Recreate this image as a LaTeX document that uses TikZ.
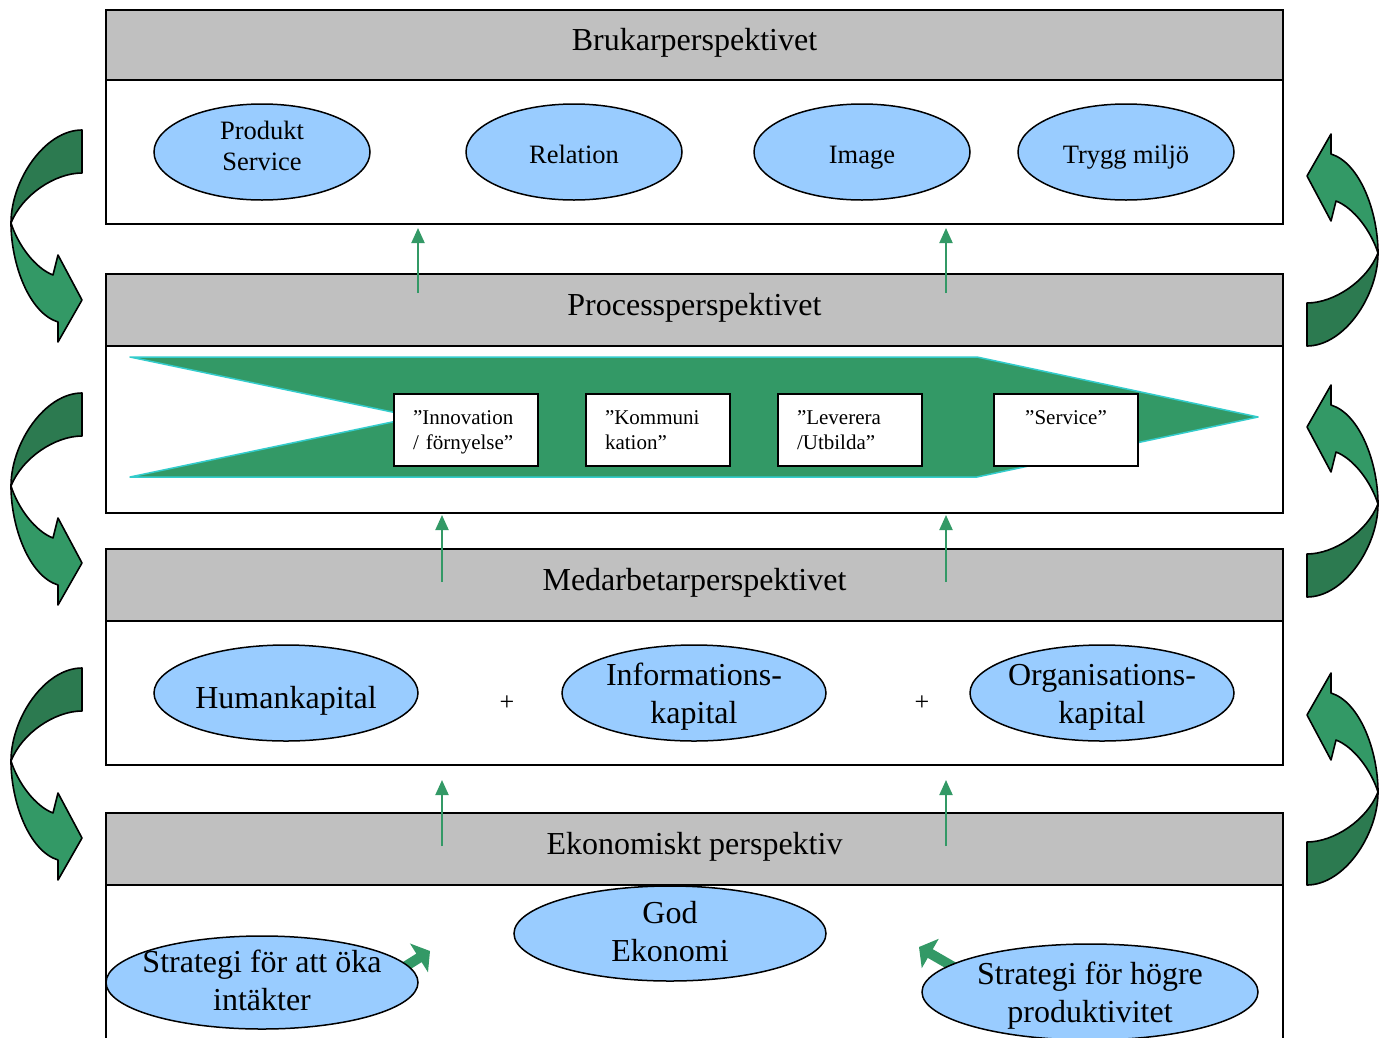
\documentclass[tikz,border=0pt]{standalone}
\usepackage{fontspec}
\setmainfont{Liberation Serif}
\usetikzlibrary{shapes.geometric,arrows.meta}
\definecolor{hdrgray}{RGB}{192,192,192}
\definecolor{ovalblue}{RGB}{153,204,255}
\definecolor{sea}{RGB}{51,153,102}
\definecolor{seadark}{RGB}{44,122,80}
\definecolor{edgecyan}{RGB}{51,204,204}

% first-line strut for the stage boxes
\newcommand\firststrut{\rule{0pt}{21.5pt}}

% curved band arrow (dark tail half, light head half), drawn in local pixel units
\newcommand\bentarrow{%
  \path[bentdark] (82,130) .. controls (45,130) and (11,180) .. (11,223)
     .. controls (22,195) and (55,173) .. (82,173) -- cycle;
  \path[bentlight] (11,223) .. controls (18,245) and (35,268) .. (53,275)
     -- (58,255) -- (82,300) -- (58,342) -- (58,322)
     .. controls (29,313) and (11,264) .. (11,223) -- cycle;
}
% small block arrow with its tip at the origin, pointing along +x
\newcommand\blockarrow[4]{%
  \begin{scope}[shift={(#1,#2)}, rotate=#3]
    \fill[sea] (0,0) -- (-13,-17) -- (-13,-5) -- (-#4,-5) -- (-#4,5) -- (-13,5) -- (-13,17) -- cycle;
  \end{scope}}

\begin{document}
\begin{tikzpicture}[x=1pt,y=-1pt,
  frame/.style={draw=black, line width=1.8pt, minimum width=1177pt, inner sep=0pt},
  hdr/.style={frame, fill=hdrgray, minimum height=#1, text height=22pt, text depth=11pt,
    font=\fontsize{32}{38}\selectfont},
  panel/.style={frame, fill=white, minimum height=#1},
  oval/.style={ellipse, draw=black, line width=1.5pt, fill=ovalblue, inner sep=0pt},
  ovtext/.style={align=center, inner sep=0pt},
  oneline/.style={anchor=base, inner sep=0pt},
  stage/.style={draw=black, line width=1.8pt, fill=white, minimum height=72pt,
    text width=106pt, inner xsep=19pt, inner ysep=0pt, align=left,
    font=\fontsize{21}{25}\selectfont},
  uparrow/.style={draw=sea, line width=2pt, -{Triangle[width=13pt,length=15pt]}},
  bentdark/.style={fill=seadark, draw=black, line width=1.6pt, line join=round},
  bentlight/.style={fill=sea, draw=black, line width=1.6pt, line join=round},
]
\useasboundingbox (0,0) rectangle (1379,1037);
\clip (0,0) rectangle (1379,1037);

% panels
\node[panel=144pt] (bodyA) at (694.5,152) {};
\node[panel=167pt] (bodyB) at (694.5,429.5) {};
\node[panel=144pt] (bodyC) at (694.5,693) {};
\node[panel=180pt] (bodyD) at (694.5,975) {};

% headers
\node[hdr=70pt] (hdrA) at (694.5,45) {Brukarperspektivet};
\node[hdr=72pt] (hdrB) at (694.5,310) {Processperspektivet};
\node[hdr=72pt] (hdrC) at (694.5,585) {Medarbetarperspektivet};
\node[hdr=72pt] (hdrD) at (694.5,849) {Ekonomiskt perspektiv};

% customer perspective
\node[oval, minimum width=216pt, minimum height=96pt] (ovProd) at (262,152) {};
\node[ovtext, font=\fontsize{26.5}{31}\selectfont] (txProd) at (262,146) {Produkt\\Service};
\node[oval, minimum width=216pt, minimum height=96pt] (ovRel) at (574,152) {};
\node[oneline, font=\fontsize{26.5}{31}\selectfont] (txRel) at (574,163) {Relation};
\node[oval, minimum width=216pt, minimum height=96pt] (ovImg) at (862,152) {};
\node[oneline, font=\fontsize{26.5}{31}\selectfont] (txImg) at (862,163) {Image};
\node[oval, minimum width=216pt, minimum height=96pt] (ovTry) at (1126,152) {};
\node[oneline, font=\fontsize{26.5}{31}\selectfont] (txTry) at (1126,163) {Trygg miljö};

% process chevron
\draw[draw=edgecyan, fill=sea, line width=1.5pt, line join=round]
  (130,357) -- (977,357) -- (1258,417) -- (977,477) -- (130,477) -- (416,417) -- cycle;
\node[stage] (stInn) at (466,430) {\firststrut”Innovation\\\strut/ förnyelse”};
\node[stage] (stKom) at (658,430) {\firststrut”Kommuni\\\strut kation”};
\node[stage] (stLev) at (850,430) {\firststrut”Leverera\\\strut/Utbilda”};
\node[stage, align=center] (stSer) at (1066,430) {\firststrut”Service”\\\strut};

% employee perspective
\node[oval, minimum width=264pt, minimum height=96pt] (ovHum) at (286,693) {};
\node[oneline, font=\fontsize{32}{38}\selectfont] (txHum) at (286,708) {Humankapital};
\node[oval, minimum width=264pt, minimum height=96pt] (ovInf) at (694,693) {};
\node[ovtext, font=\fontsize{32}{38}\selectfont] (txInf) at (694,697) {Informations-\\kapital};
\node[oval, minimum width=264pt, minimum height=96pt] (ovOrg) at (1102,693) {};
\node[ovtext, font=\fontsize{32}{38}\selectfont] (txOrg) at (1102,697) {Organisations-\\kapital};
\node[font=\fontsize{26}{30}\selectfont, inner sep=0pt] (plusA) at (507,703) {+};
\node[font=\fontsize{26}{30}\selectfont, inner sep=0pt] (plusB) at (922,703) {+};

% economic perspective
\blockarrow{430}{951}{32}{36}
\blockarrow{919}{947}{150}{44}
\node[oval, minimum width=312pt, minimum height=95pt] (ovGod) at (670,933.5) {};
\node[ovtext, font=\fontsize{32}{38}\selectfont] (txGod) at (670,932) {God\\Ekonomi};
\node[oval, minimum width=312pt, minimum height=93pt] (ovInt) at (262,982.5) {};
\node[ovtext, font=\fontsize{32}{38}\selectfont] (txInt) at (262,980) {Strategi för att öka\\intäkter};
\node[oval, minimum width=336pt, minimum height=96pt] (ovPro) at (1090,992) {};
\node[ovtext, font=\fontsize{32}{38}\selectfont] (txPro) at (1090,996) {Strategi för högre\\produktivitet};

% upward links between perspectives
\coordinate (fB1) at (418,293); \coordinate (tA1) at (418,228);
\coordinate (fB2) at (946,293); \coordinate (tA2) at (946,228);
\coordinate (fC1) at (442,582); \coordinate (tB1) at (442,515);
\coordinate (fC2) at (946,582); \coordinate (tB2) at (946,515);
\coordinate (fD1) at (442,846); \coordinate (tC1) at (442,780);
\coordinate (fD2) at (946,846); \coordinate (tC2) at (946,780);
\draw[uparrow] (fB1) -- (tA1);
\draw[uparrow] (fB2) -- (tA2);
\draw[uparrow] (fC1) -- (tB1);
\draw[uparrow] (fC2) -- (tB2);
\draw[uparrow] (fD1) -- (tC1);
\draw[uparrow] (fD2) -- (tC2);

% curved arrows on the left side (downward)
\begin{scope}\bentarrow\end{scope}
\begin{scope}[shift={(0,263)}]\bentarrow\end{scope}
\begin{scope}[shift={(0,538)}]\bentarrow\end{scope}
% curved arrows on the right side (upward)
\begin{scope}[shift={(1389,476)}, rotate=180]\bentarrow\end{scope}
\begin{scope}[shift={(1389,727)}, rotate=180]\bentarrow\end{scope}
\begin{scope}[shift={(1389,1015)}, rotate=180]\bentarrow\end{scope}
\end{tikzpicture}
\end{document}
